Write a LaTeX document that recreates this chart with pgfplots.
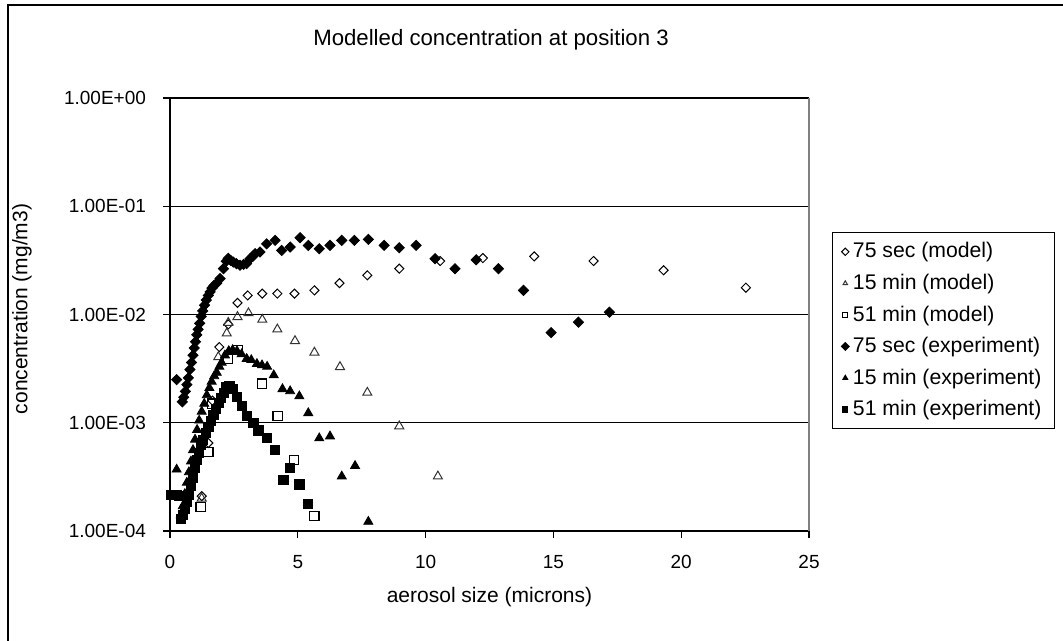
\documentclass[border=0pt]{standalone}
\usepackage{fontspec}
\setmainfont{Liberation Sans}
\usepackage{pgfplots}
\pgfplotsset{compat=1.18}
\begin{document}
\begin{tikzpicture}
\path[use as bounding box] (0,0) rectangle (531.5pt,320.5pt);
\draw[line width=0.9pt,black] (4pt,-1pt) -- (4pt,318pt) -- (533pt,318pt);
\node[font=\fontsize{11.1}{13}\selectfont] at (245.5pt,300.5pt) {Modelled concentration at position 3};
\node[font=\fontsize{10.5}{12}\selectfont] at (244.75pt,22pt) {aerosol size (microns)};
\node[font=\fontsize{10.5}{12}\selectfont,rotate=90] at (11pt,166pt) {concentration (mg/m3)};
\begin{axis}[
  at={(85pt,55pt)}, anchor=south west,
  scale only axis, width=319.5pt, height=216.5pt,
  xmin=0, xmax=25, ymode=log, ymin=1e-4, ymax=1,
  xtick={0,5,10,15,20,25},
  ytick={1e-4,1e-3,1e-2,1e-1,1},
  yticklabels={1.00E-04,1.00E-03,1.00E-02,1.00E-01,1.00E+00},
  yminorticks=false,
  xtick pos=lower, ytick pos=lower,
  tick align=outside, major tick length=3.5pt,
  tick style={black,line width=0.6pt},
  axis line style={draw=none},
  ymajorgrids, grid style={black,line width=0.6pt},
  ticklabel style={font=\fontsize{9.5}{11}\selectfont},
  yticklabel style={xshift=-5pt},
  xticklabel style={yshift=-5pt},
  /pgf/number format/assume math mode=true,
  legend style={at={(1.036,0.6905)}, anchor=north west, draw=black, line width=0.6pt,
    font=\fontsize{10.6}{12}\selectfont, row sep=2.6pt, inner xsep=4.5pt, inner ysep=3pt},
  legend image post style={mark size=1.3pt},
  legend cell align=left,
  clip=false,
]
\draw[black,line width=0.7pt] (rel axis cs:0,1) -- (rel axis cs:0,0) -- (rel axis cs:1,0);
\draw[gray,line width=0.6pt] (rel axis cs:1,0) -- (rel axis cs:1,1);
% 75 sec (model)
\addplot[only marks, mark=square, mark size=1.6pt, mark options={rotate=45,fill=white,draw=black,line width=0.5pt}] coordinates {
(1.24,2.1e-4) (1.50,6.5e-4) (1.66,1.6e-3) (1.93,5.0e-3) (2.28,8.1e-3) (2.64,1.28e-2)
(3.04,1.50e-2) (3.61,1.56e-2) (4.20,1.56e-2) (4.87,1.56e-2) (5.65,1.67e-2) (6.63,1.95e-2)
(7.72,2.30e-2) (8.97,2.65e-2) (10.57,3.12e-2) (12.24,3.32e-2) (14.25,3.44e-2)
(16.57,3.12e-2) (19.31,2.56e-2) (22.53,1.77e-2)};
\addlegendentry{75 sec (model)}
% 15 min (model)
\addplot[only marks, mark=triangle, mark size=2.6pt, mark options={fill=white,draw=black!80,line width=0.5pt}] coordinates {
(1.24,2.0e-4) (1.89,4.05e-3) (2.22,6.7e-3) (2.28,8.4e-3) (2.64,9.5e-3) (3.07,1.03e-2)
(3.61,8.97e-3) (4.20,7.3e-3) (4.89,5.7e-3) (5.65,4.46e-3) (6.65,3.28e-3) (7.72,1.90e-3)
(8.97,9.3e-4) (10.48,3.2e-4)};
\addlegendentry{15 min (model)}
% 51 min (model)
\addplot[only marks, mark=square, mark size=2.3pt, mark options={fill=white,draw=black,line width=0.6pt}] coordinates {
(1.20,1.67e-4) (1.50,5.4e-4) (1.64,1.5e-3) (2.28,3.9e-3) (2.67,4.7e-3) (3.60,2.3e-3)
(4.21,1.15e-3) (4.85,4.5e-4) (5.65,1.38e-4)};
\addlegendentry{51 min (model)}
% 75 sec (experiment)
\addplot[only marks, mark=square*, mark size=1.8pt, mark options={rotate=45,fill=black,draw=black}] coordinates {
(0.26,2.5e-3) (0.48,1.56e-3) (0.54,1.72e-3) (0.60,1.95e-3) (0.66,2.25e-3) (0.72,2.6e-3)
(0.78,3.1e-3) (0.84,3.6e-3) (0.90,4.2e-3) (0.95,4.9e-3) (1.00,5.6e-3) (1.05,6.5e-3)
(1.10,7.3e-3) (1.16,8.3e-3) (1.22,9.6e-3) (1.28,1.08e-2) (1.35,1.22e-2) (1.42,1.36e-2)
(1.50,1.50e-2) (1.57,1.62e-2) (1.64,1.75e-2) (1.72,1.85e-2) (1.83,1.95e-2) (1.96,2.15e-2)
(2.09,2.65e-2) (2.20,3.1e-2) (2.28,3.3e-2) (2.38,3.15e-2) (2.48,3.05e-2) (2.60,2.95e-2)
(2.74,2.85e-2) (2.88,2.9e-2) (3.00,2.95e-2) (3.13,3.28e-2) (3.24,3.45e-2) (3.33,3.65e-2)
(3.52,3.78e-2) (3.78,4.5e-2) (4.11,4.84e-2) (4.37,3.91e-2) (4.70,4.2e-2) (5.09,5.12e-2)
(5.41,4.35e-2) (5.84,4.05e-2) (6.26,4.35e-2) (6.72,4.84e-2) (7.21,4.84e-2) (7.76,4.94e-2)
(8.38,4.35e-2) (8.97,4.14e-2) (9.63,4.35e-2) (10.37,3.28e-2) (11.15,2.65e-2) (11.98,3.2e-2)
(12.85,2.65e-2) (13.83,1.67e-2) (14.91,6.8e-3) (15.98,8.5e-3) (17.19,1.05e-2)};
\addlegendentry{75 sec (experiment)}
% 15 min (experiment)
\addplot[only marks, mark=triangle*, mark size=2.6pt, mark options={fill=black,draw=black}] coordinates {
(0.26,3.7e-4) (0.42,1.4e-4) (0.50,1.7e-4) (0.58,2.2e-4) (0.66,2.8e-4) (0.74,3.5e-4)
(0.82,4.4e-4) (0.90,5.6e-4) (0.98,7.0e-4) (1.06,8.6e-4) (1.14,1.05e-3) (1.24,1.27e-3)
(1.34,1.5e-3) (1.44,1.8e-3) (1.54,2.1e-3) (1.63,2.4e-3) (1.73,2.7e-3) (1.83,2.9e-3)
(1.93,3.3e-3) (2.02,3.6e-3) (2.15,4.2e-3) (2.30,4.6e-3) (2.45,4.7e-3) (2.62,4.6e-3)
(2.80,4.3e-3) (3.00,3.9e-3) (3.18,3.8e-3) (3.40,3.5e-3) (3.60,3.4e-3) (3.80,3.3e-3)
(4.06,2.75e-3) (4.40,2.05e-3) (4.70,1.96e-3) (5.06,1.76e-3) (5.41,1.23e-3) (5.84,7.2e-4)
(6.26,7.5e-4) (6.72,3.2e-4) (7.24,4.0e-4) (7.76,1.22e-4)};
\addlegendentry{15 min (experiment)}
% 51 min (experiment)
\addplot[only marks, mark=square*, mark size=2.3pt, mark options={fill=black,draw=black}] coordinates {
(0.05,2.15e-4) (0.15,2.15e-4) (0.25,2.15e-4) (0.35,2.1e-4) (0.42,1.3e-4) (0.50,1.4e-4)
(0.58,1.6e-4) (0.66,1.85e-4) (0.74,2.15e-4) (0.82,2.6e-4) (0.90,3.1e-4) (0.98,3.8e-4)
(1.06,4.5e-4) (1.14,5.3e-4) (1.22,6.2e-4) (1.30,7.0e-4) (1.40,8.0e-4) (1.50,9.2e-4)
(1.60,1.04e-3) (1.70,1.18e-3) (1.80,1.35e-3) (1.90,1.52e-3) (2.00,1.7e-3) (2.10,1.9e-3)
(2.20,2.15e-3) (2.32,2.2e-3) (2.46,2.05e-3) (2.61,1.73e-3) (2.80,1.42e-3) (3.00,1.15e-3)
(3.26,1.0e-3) (3.46,8.5e-4) (3.78,7.2e-4) (4.11,5.6e-4) (4.44,2.95e-4) (4.70,3.8e-4)
(5.06,2.7e-4) (5.41,1.77e-4)};
\addlegendentry{51 min (experiment)}
\end{axis}
\end{tikzpicture}
\end{document}
